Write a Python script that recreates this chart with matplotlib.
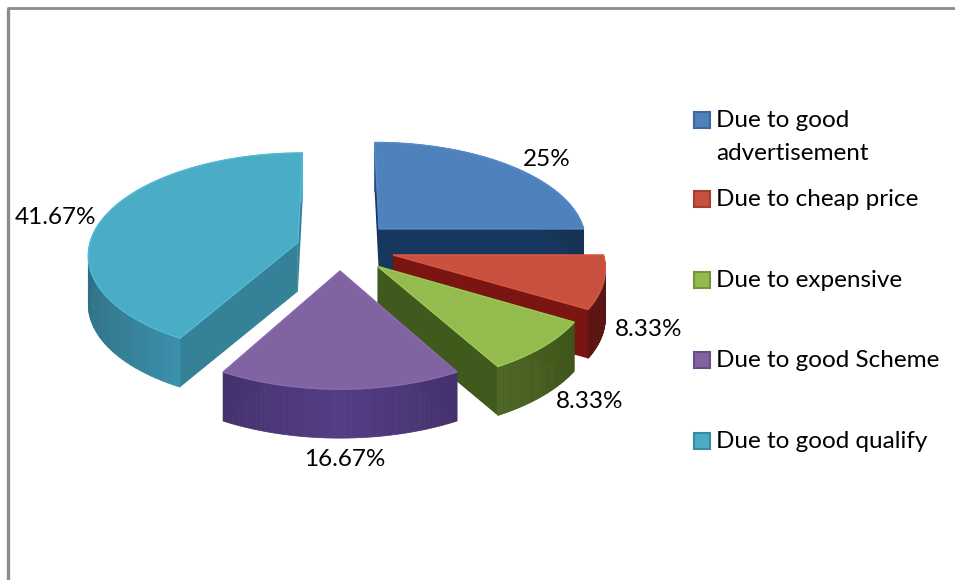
import numpy as np
import matplotlib
matplotlib.use("Agg")
import matplotlib.pyplot as plt
from matplotlib.patches import Polygon, Rectangle

categories = ["Due to good\nadvertisement", "Due to cheap price", "Due to expensive",
              "Due to good Scheme", "Due to good qualify"]
values = [25, 8.33, 8.33, 16.67, 41.67]
labels = ["25%", "8.33%", "8.33%", "16.67%", "41.67%"]
explode = [0.27, 0.26, 0.25, 0.22, 0.21]
tops = ["#4f81bd", "#c8503f", "#93bb4e", "#8064a2", "#4bacc6"]
sides = ["#1d3f66", "#6e1a18", "#4a6320", "#43306a", "#3a8ca6"]
cuts = ["#17375e", "#7a1512", "#3f5a1c", "#3a2a5c", "#358197"]
draw_order = [0, 4, 1, 2, 3]
label_pos = [(547, 159), (649, 329), (590, 402), (345, 460), (55, 218)]
legend_y = [120, 199, 280, 360, 441]

CX, CY = 340, 248
RX, RY = 209, 102
K = 0.11
DEPTH = 49


def project(x, y):
    s = 1 + K * y
    return CX + RX * x * s, CY + RY * y * s


def shade(col, f):
    c = np.array(matplotlib.colors.to_rgb(col))
    return tuple(np.clip(c * f, 0, 1))


plt.rcParams["font.family"] = ["Lato", "DejaVu Sans"]
fig = plt.figure(figsize=(9.55, 5.8), dpi=100)
ax = fig.add_axes([0, 0, 1, 1])
ax.set_xlim(0, 955)
ax.set_ylim(580, 0)
ax.axis("off")

# frame, only left and top show in the picture
ax.plot([7.5, 7.5], [580, 8], color="#8c8c8c", lw=2.4, solid_capstyle="butt")
ax.plot([6.5, 955], [8, 8], color="#8c8c8c", lw=2.0, solid_capstyle="butt")

# slice angles, clockwise from the top
ends = np.cumsum(values) / sum(values) * 2 * np.pi
starts = np.r_[0, ends[:-1]]

for n, i in enumerate(draw_order):
    z = 2 + n
    mid = (starts[i] + ends[i]) / 2
    ex0, ey0 = explode[i] * np.sin(mid), -explode[i] * np.cos(mid)
    t = np.linspace(starts[i], ends[i], 80)
    px, py = project(ex0 + np.sin(t), ey0 - np.cos(t))
    apx, apy = project(ex0, ey0)
    # cut faces
    for ex, ey in ((px[0], py[0]), (px[-1], py[-1])):
        ax.add_patch(Polygon([(apx, apy), (ex, ey), (ex, ey + DEPTH), (apx, apy + DEPTH)],
                             fc=cuts[i], ec="none", zorder=z))
    # outer rim, shaded strip by strip
    for j in range(len(px) - 1):
        f = 1.25 - 0.45 * abs(np.sin(t[j]))
        col = shade(sides[i], f)
        ax.add_patch(Polygon([(px[j], py[j]), (px[j + 1], py[j + 1]),
                              (px[j + 1], py[j + 1] + DEPTH), (px[j], py[j] + DEPTH)],
                             fc=col, ec=col, lw=0.5, zorder=z + 0.1))
    ax.add_patch(Polygon(np.c_[np.r_[apx, px], np.r_[apy, py]], fc=tops[i],
                         ec=shade(tops[i], 1.08), lw=1, zorder=z + 0.2))

for (lx, ly), lab in zip(label_pos, labels):
    ax.text(lx, ly, lab, fontsize=17.5, ha="center", va="center", color="black", zorder=20)

for y, cat, top in zip(legend_y, categories, tops):
    ax.add_patch(Rectangle((694, y - 8), 16, 16, fc=top, ec=shade(top, 0.8), lw=1.5, zorder=20))
    ax.text(716, y - 10, cat, fontsize=17.5, ha="left", va="top", color="black",
            linespacing=1.7, zorder=20)

fig.savefig("out.png", dpi=100)
